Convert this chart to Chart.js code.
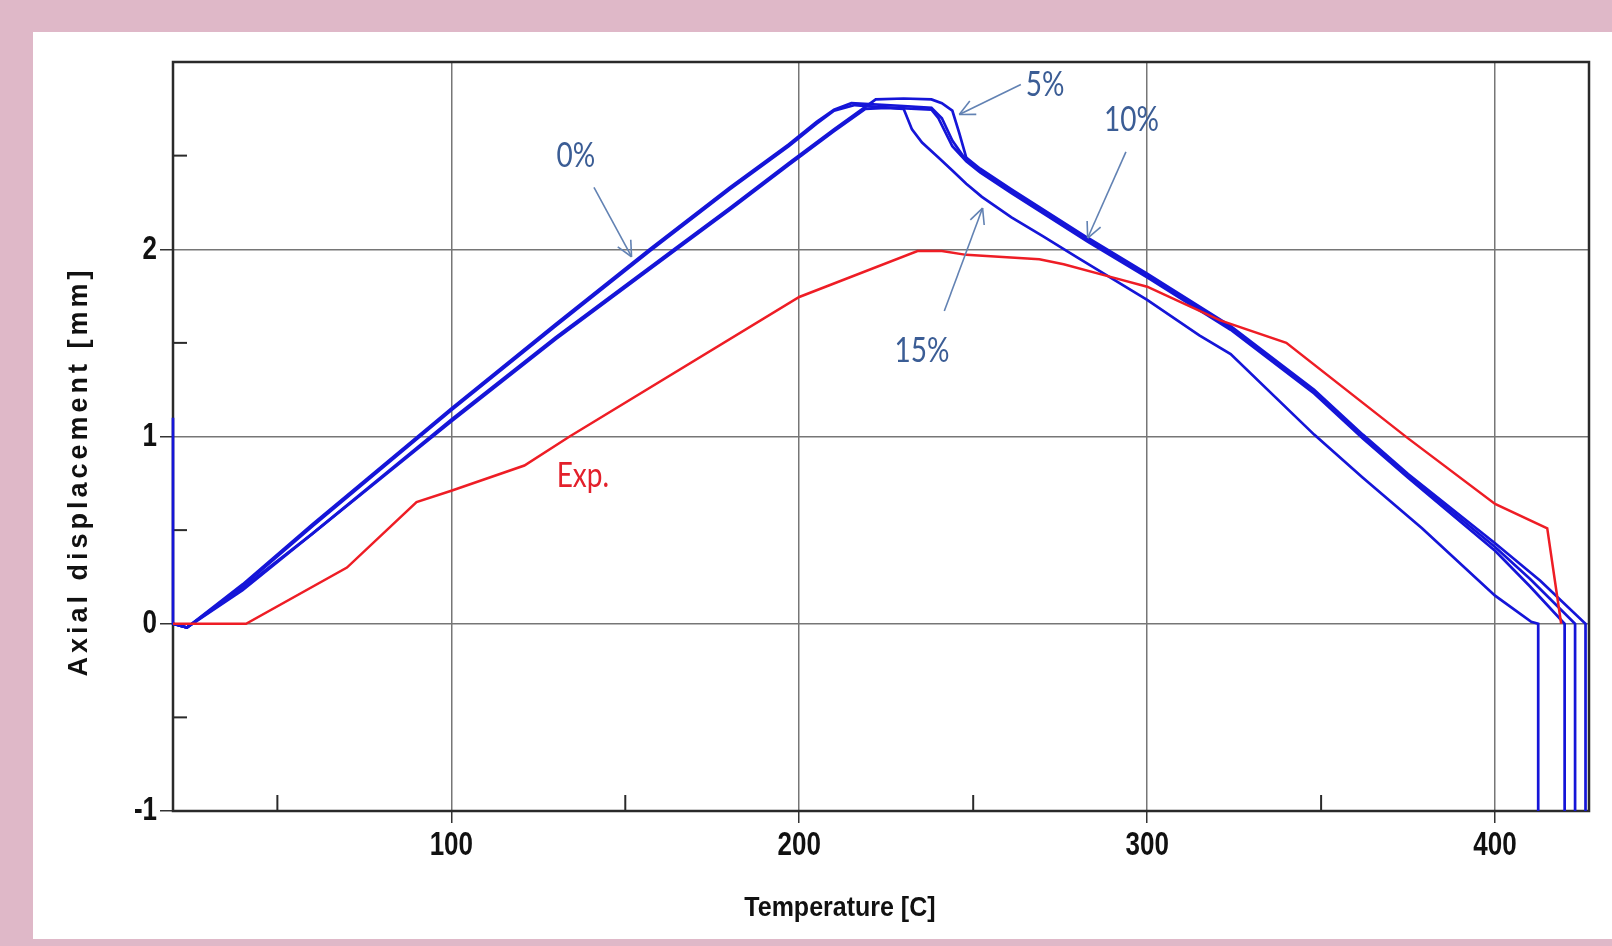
<!DOCTYPE html>
<html>
<head>
<meta charset="utf-8">
<script src="https://cdn.jsdelivr.net/npm/chart.js@4.4.1/dist/chart.umd.min.js"></script>
<style>
  html, body { margin: 0; padding: 0; }
  body { width: 1612px; height: 946px; background: #dfb8c8; position: relative; overflow: hidden; }
  #panel { position: absolute; left: 33px; top: 32px; width: 1579px; height: 907px; background: #fff; }
</style>
</head>
<body>
<div id="panel"><canvas id="chart"></canvas></div>
<script>
// axis ticks
const tempTicks = [100, 200, 300, 400];
const tempMinor = [50, 150, 250, 350];
const dispTicks = [-1, 0, 1, 2];
const dispMinor = [-0.5, 0.5, 1.5, 2.5];

// experiment
const expT = [20, 41, 70, 90, 100, 121, 134, 200, 234, 241, 248, 269, 276, 290, 300, 321, 340, 375, 400, 415, 419];
const expD = [0, 0, 0.30, 0.65, 0.71, 0.845, 1.0, 1.745, 1.99, 1.99, 1.97, 1.946, 1.92, 1.85, 1.80, 1.62, 1.50, 0.99, 0.64, 0.51, 0];

// simulations
const s0T = [20, 24, 40, 60, 100, 130, 157, 180, 197, 205, 210, 215, 220, 230, 238, 241, 244, 247, 252, 261, 283, 300, 324, 348, 362, 375, 400, 410, 423, 423];
const s0D = [0, -0.02, 0.21, 0.53, 1.15, 1.60, 2.00, 2.33, 2.56, 2.68, 2.745, 2.78, 2.775, 2.765, 2.755, 2.70, 2.58, 2.50, 2.42, 2.31, 2.05, 1.86, 1.58, 1.24, 1.00, 0.79, 0.41, 0.24, 0, -1.1];

const s5T = [20, 24, 40, 60, 100, 130, 164, 180, 197, 210, 219, 222, 230, 238, 241, 244, 246, 248, 252, 261, 283, 300, 324, 348, 362, 375, 400, 413, 426, 426];
const s5D = [0, -0.02, 0.19, 0.48, 1.09, 1.53, 2.00, 2.22, 2.46, 2.64, 2.76, 2.80, 2.805, 2.80, 2.78, 2.74, 2.62, 2.49, 2.43, 2.32, 2.06, 1.87, 1.59, 1.25, 1.01, 0.80, 0.43, 0.23, 0, -1.1];

const s10T = [20, 20, 24, 40, 60, 100, 130, 157, 180, 197, 205, 210, 216, 222, 238, 240, 244, 248, 252, 261, 283, 300, 324, 348, 362, 375, 400, 410, 420, 420];
const s10D = [1.1, 0, -0.02, 0.20, 0.52, 1.14, 1.59, 1.99, 2.32, 2.55, 2.67, 2.74, 2.77, 2.76, 2.745, 2.70, 2.55, 2.47, 2.41, 2.30, 2.04, 1.85, 1.57, 1.23, 0.99, 0.78, 0.39, 0.20, 0, -1.1];

const s15T = [20, 24, 40, 60, 100, 130, 164, 180, 197, 210, 219, 225, 230, 232.4, 235.3, 240, 244, 248, 252.5, 261, 270, 280, 300, 315, 324, 348, 362, 379, 400, 410.4, 412.4, 412.4];
const s15D = [0, -0.02, 0.18, 0.48, 1.08, 1.52, 1.99, 2.21, 2.45, 2.63, 2.75, 2.755, 2.75, 2.64, 2.57, 2.49, 2.42, 2.35, 2.28, 2.17, 2.07, 1.955, 1.73, 1.54, 1.44, 1.01, 0.78, 0.51, 0.15, 0.01, 0, -1.1];

// labels with arrows, in data units
const notes = [
  { text: '0%',   color: '#3b5d95', at: [135.8, 2.50], from: [141, 2.33],   to: [151.8, 1.96] },
  { text: '5%',   color: '#3b5d95', at: [270.7, 2.88], from: [263.7, 2.88], to: [246, 2.72] },
  { text: '10%',  color: '#3b5d95', at: [295.5, 2.69], from: [293.9, 2.52], to: [282.9, 2.06] },
  { text: '15%',  color: '#3b5d95', at: [235.3, 1.46], from: [241.7, 1.67], to: [252.7, 2.22] },
  { text: 'Exp.', color: '#e3202b', at: [137.8, 0.79] }
];

const pts = (t, d) => t.map((v, i) => ({ x: v, y: d[i] }));
const BLUE = '#1515d8';
const RED = '#ee1d25';
const SANS = "'Liberation Sans', Arial, sans-serif";

function line(ctx, x1, y1, x2, y2) {
  ctx.beginPath();
  ctx.moveTo(x1, y1);
  ctx.lineTo(x2, y2);
  ctx.stroke();
}

// text squeezed like the original (tall, narrow)
function tallText(ctx, text, px, py, sy) {
  ctx.save();
  ctx.translate(px, py);
  ctx.scale(1, sy);
  ctx.fillText(text, 0, 0);
  ctx.restore();
}

const decor = {
  id: 'decor',
  beforeDatasetsDraw(chart) {
    const { ctx, chartArea: a, scales: { x, y } } = chart;
    ctx.save();
    ctx.strokeStyle = '#2a2a2a';
    ctx.lineWidth = 2;
    tempMinor.forEach(v => {
      const px = x.getPixelForValue(v);
      line(ctx, px, a.bottom, px, a.bottom - 16);
    });
    dispMinor.forEach(v => {
      const py = y.getPixelForValue(v);
      line(ctx, a.left, py, a.left + 14, py);
    });
    ctx.lineWidth = 2.5;
    ctx.strokeRect(a.left, a.top, a.right - a.left, a.bottom - a.top);
    ctx.restore();
  },
  afterDraw(chart) {
    const { ctx, chartArea: a, scales: { x, y } } = chart;
    ctx.save();
    ctx.fillStyle = '#111';
    ctx.textBaseline = 'middle';

    // tick labels
    ctx.font = 'bold 26px ' + SANS;
    ctx.textAlign = 'center';
    tempTicks.forEach(v => tallText(ctx, String(v), x.getPixelForValue(v), a.bottom + 35, 1.3));
    ctx.textAlign = 'right';
    dispTicks.forEach(v => tallText(ctx, String(v), a.left - 16, y.getPixelForValue(v), 1.3));

    // x title
    ctx.textAlign = 'center';
    ctx.font = 'bold 25px ' + SANS;
    tallText(ctx, 'Temperature [C]', a.left + 0.471 * (a.right - a.left), a.bottom + 97, 1.12);

    // y title
    ctx.save();
    ctx.translate(a.left - 93, (a.top + a.bottom) / 2 + 35);
    ctx.rotate(-Math.PI / 2);
    ctx.font = 'bold 27px ' + SANS;
    ctx.letterSpacing = '4px';
    ctx.fillText('Axial displacement [mm]', 0, 0);
    ctx.restore();

    // notes
    notes.forEach(n => {
      if (n.from) {
        const x1 = x.getPixelForValue(n.from[0]), y1 = y.getPixelForValue(n.from[1]);
        const x2 = x.getPixelForValue(n.to[0]), y2 = y.getPixelForValue(n.to[1]);
        const ang = Math.atan2(y2 - y1, x2 - x1);
        ctx.strokeStyle = '#6282b3';
        ctx.lineWidth = 1.6;
        line(ctx, x1, y1, x2, y2);
        [0.45, -0.45].forEach(d => {
          line(ctx, x2, y2, x2 - 17 * Math.cos(ang + d), y2 - 17 * Math.sin(ang + d));
        });
      }
      ctx.font = "28px Lato, 'Open Sans', sans-serif";
      ctx.fillStyle = n.color;
      tallText(ctx, n.text, x.getPixelForValue(n.at[0]), y.getPixelForValue(n.at[1]), 1.25);
    });
    ctx.restore();
  }
};

const lineStyle = (data, color, w) => ({
  data, borderColor: color, borderWidth: w, showLine: true, pointRadius: 0,
  tension: 0, fill: false, clip: { left: 3, right: 3, top: 0, bottom: 0 }
});

new Chart(document.getElementById('chart'), {
  type: 'scatter',
  data: {
    datasets: [
      lineStyle(pts(expT, expD), RED, 2.5),
      lineStyle(pts(s0T, s0D), BLUE, 2.7),
      lineStyle(pts(s5T, s5D), BLUE, 2.7),
      lineStyle(pts(s10T, s10D), BLUE, 2.7),
      lineStyle(pts(s15T, s15D), BLUE, 2.7)
    ]
  },
  options: {
    responsive: true,
    maintainAspectRatio: false,
    animation: false,
    layout: { padding: { top: 30, right: 23, left: 0, bottom: 0 } },
    plugins: { legend: { display: false }, tooltip: { enabled: false } },
    scales: {
      x: {
        type: 'linear',
        min: 20,
        max: 427,
        afterBuildTicks: s => { s.ticks = tempTicks.map(v => ({ value: v })); },
        afterFit: s => { s.height = 128; },
        border: { display: false },
        grid: { color: '#767676', lineWidth: 1.5, tickLength: 12, tickColor: '#333', tickWidth: 1.5 },
        ticks: { display: false }
      },
      y: {
        min: -1,
        max: 3,
        afterBuildTicks: s => { s.ticks = dispTicks.map(v => ({ value: v })); },
        afterFit: s => { s.width = 140; },
        border: { display: false },
        grid: { color: '#767676', lineWidth: 1.5, tickLength: 13, tickColor: '#333', tickWidth: 1.5 },
        ticks: { display: false }
      }
    }
  },
  plugins: [decor]
});
</script>
</body>
</html>
